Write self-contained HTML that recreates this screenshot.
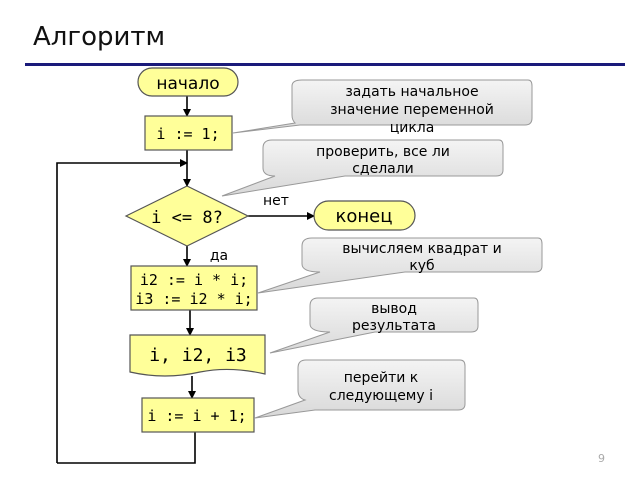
<!DOCTYPE html>
<html><head><meta charset="utf-8"><style>
body{margin:0;background:#fff}
svg{display:block}
text{font-family:"DejaVu Sans","Liberation Sans",sans-serif}
.m{font-family:"DejaVu Sans Mono","Liberation Mono",monospace}
</style></head><body>
<svg width="640" height="480" viewBox="0 0 640 480">
<defs>
<marker id="a" markerWidth="8" markerHeight="8" refX="7" refY="4" orient="auto" markerUnits="userSpaceOnUse"><path d="M0,0 L8,4 L0,8z" fill="#000"/></marker>
<linearGradient id="g" x1="0" y1="0" x2="0" y2="1"><stop offset="0" stop-color="#f4f4f4"/><stop offset="1" stop-color="#d8d8d8"/></linearGradient>
</defs>
<text x="33" y="45" font-size="26" fill="#111">Алгоритм</text>
<rect x="25" y="63" width="600" height="3" fill="#1a1a7a"/>

<g stroke="#000" stroke-width="1.6" fill="none">
<line x1="187" y1="96" x2="187" y2="116" marker-end="url(#a)"/>
<line x1="187" y1="150" x2="187" y2="186" marker-end="url(#a)"/>
<polyline points="57,463 57,163 187,163" marker-end="url(#a)"/>
<polyline points="195,432 195,463 57,463"/>
<line x1="248" y1="216" x2="314" y2="216" marker-end="url(#a)"/>
<line x1="187" y1="246" x2="187" y2="266" marker-end="url(#a)"/>
<line x1="190" y1="310" x2="190" y2="335" marker-end="url(#a)"/>
<line x1="192" y1="376" x2="192" y2="398" marker-end="url(#a)"/>
</g>

<g fill="#ffff99" stroke="#555" stroke-width="1.2">
<rect x="138" y="68" width="100" height="28" rx="14"/>
<rect x="145" y="116" width="87" height="34"/>
<polygon points="126,216 187,186 248,216 187,246"/>
<rect x="314" y="201" width="101" height="29" rx="14.5"/>
<rect x="131" y="266" width="126" height="44"/>
<path d="M130,335 H265 V374 Q230,366 200,372 Q165,380 130,372 Z"/>
<rect x="142" y="398" width="112" height="34"/>
</g>

<g fill="#000" text-anchor="middle">
<text x="188" y="89" font-size="17">начало</text>
<text x="188" y="139" font-size="15" class="m">i := 1;</text>
<text x="187" y="223" font-size="17" class="m">i &lt;= 8?</text>
<text x="364" y="222" font-size="18">конец</text>
<text x="194" y="285" font-size="15" class="m">i2 := i * i;</text>
<text x="194" y="304" font-size="15" class="m">i3 := i2 * i;</text>
<text x="198" y="361" font-size="18" class="m">i, i2, i3</text>
<text x="197" y="421" font-size="15" class="m">i := i + 1;</text>
<text x="276" y="205" font-size="14">нет</text>
<text x="219" y="260" font-size="14">да</text>
</g>

<g fill="url(#g)" stroke="#999" stroke-width="1">
<path d="M302,80 H528 Q532,80 532,86 V118 Q532,125 525,125 H300 L233,133 L295,123 Q292,120 292,115 V86 Q292,80 302,80Z"/>
<path d="M272,140 H499 Q503,140 503,146 V170 Q503,176 496,176 H345 L222,196 L275,176 Q263,176 263,168 V148 Q263,140 272,140Z"/>
<path d="M312,238 H538 Q542,238 542,244 V266 Q542,272 535,272 H405 L258,293 L320,272 Q302,272 302,264 V246 Q302,238 312,238Z"/>
<path d="M318,298 H474 Q478,298 478,304 V326 Q478,332 471,332 H375 L270,353 L330,332 Q310,332 310,324 V306 Q310,298 318,298Z"/>
<path d="M306,360 H460 Q465,360 465,366 V404 Q465,410 458,410 H315 L255,418 L305,400 Q298,398 298,390 V368 Q298,360 306,360Z"/>
</g>

<g fill="#000" text-anchor="middle" font-size="14">
<text x="412" y="96">задать начальное</text>
<text x="412" y="114">значение переменной</text>
<text x="412" y="132">цикла</text>
<text x="383" y="156">проверить, все ли</text>
<text x="383" y="173">сделали</text>
<text x="422" y="253">вычисляем квадрат и</text>
<text x="422" y="270">куб</text>
<text x="394" y="313">вывод</text>
<text x="394" y="330">результата</text>
<text x="381" y="382">перейти к</text>
<text x="381" y="400">следующему i</text>
</g>
<text x="598" y="462" font-size="11" fill="#aaa">9</text>
</svg>
</body></html>
